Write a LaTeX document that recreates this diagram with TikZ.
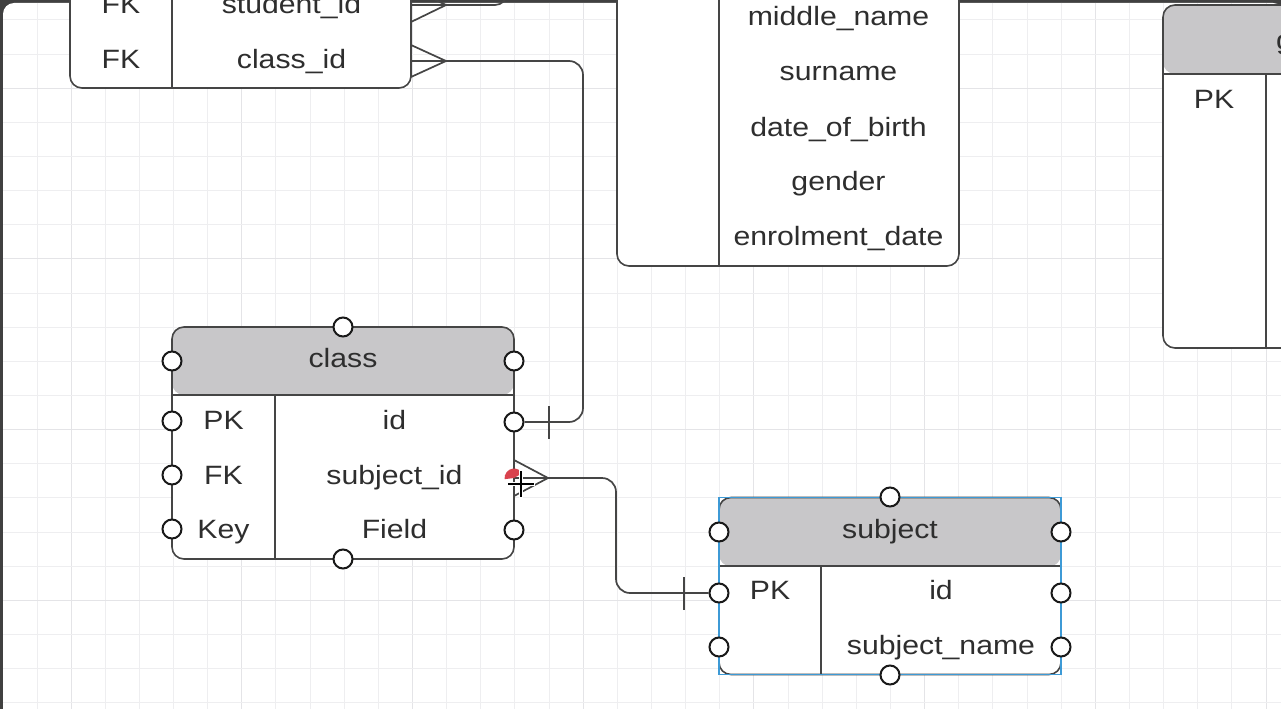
\documentclass[tikz,border=0pt]{standalone}
\usepackage{fontspec}
\setmainfont{Liberation Sans}[FakeStretch=1.14]
\definecolor{framec}{HTML}{404040}
\definecolor{gridminor}{HTML}{EEEEF0}
\definecolor{gridmajor}{HTML}{E4E4E7}
\definecolor{linec}{HTML}{454545}
\definecolor{hdrc}{HTML}{C8C7C9}
\definecolor{textc}{HTML}{2E2E2E}
\definecolor{selblue}{HTML}{3D9AD6}
\definecolor{curred}{HTML}{D9434E}
\begin{document}
\begin{tikzpicture}[x=1pt,y=-1pt,
  tblline/.style={draw=linec, line width=1.6pt},
  tablebox/.style={rectangle, draw=linec, line width=1.6pt, fill=white, rounded corners=12pt, inner sep=0, outer sep=0},
  hdr/.style={path picture={\fill[hdrc] (path picture bounding box.north west) rectangle ([yshift=-#1]path picture bounding box.north east);}},
  txt/.style={text=textc, font=\fontsize{26.5}{30}\selectfont, inner sep=0, anchor=base},
  port/.style={circle, draw=black!90, fill=white, line width=2pt, minimum size=19pt, inner sep=0},
  link/.style={draw=linec, line width=1.7pt, rounded corners=13pt},
  bar/.style={draw=linec, line width=1.7pt}
]
\useasboundingbox (0,0) rectangle (1281,709);
\clip (0,0) rectangle (1281,709);
% frame
\fill[framec] (0,0) rectangle (1281,709);
\fill[white, rounded corners=11pt] (3,3) rectangle (1284,740);
% grid
\foreach \i in {0,...,37} {
  \pgfmathsetmacro\gx{37+34.14*\i}
  \pgfmathtruncatemacro\m{mod(\i+4,5)}
  \ifnum\m=0 \draw[gridmajor, line width=1pt] (\gx,3) -- (\gx,709);
  \else \draw[gridminor, line width=1pt] (\gx,3) -- (\gx,709); \fi
}
\foreach \j in {0,...,20} {
  \pgfmathsetmacro\gy{20+34.14*\j}
  \pgfmathtruncatemacro\m{mod(\j+3,5)}
  \ifnum\m=0 \draw[gridmajor, line width=1pt] (3,\gy) -- (1281,\gy);
  \else \draw[gridminor, line width=1pt] (3,\gy) -- (1281,\gy); \fi
}

% ---------- top-left table (partly off canvas)
\node[tablebox, minimum width=341pt, minimum height=288pt] (enrT) at (240.5,-56) {};
\draw[tblline] (172,-200) -- (172,88);
\node[txt] (enrK1) at (121,13.5) {FK};
\node[txt] (enrF1) at (291.5,13.5) {student\_id};
\node[txt] (enrK2) at (121,68) {FK};
\node[txt] (enrF2) at (291.5,68) {class\_id};
\coordinate (enrSid) at (411,5);
\coordinate (enrCid) at (411,61);
\coordinate (offTop) at (507,-40);

% ---------- student table (partly off canvas)
\node[tablebox, minimum width=342pt, minimum height=416pt] (stuT) at (788,58) {};
\draw[tblline] (719,-150) -- (719,266);
\node[txt] (stu1) at (838.5,26) {middle\_name};
\node[txt] (stu2) at (838.5,81) {surname};
\node[txt] (stu3) at (838.5,136) {date\_of\_birth};
\node[txt] (stu4) at (838.5,190.5) {gender};
\node[txt] (stu5) at (838.5,245) {enrolment\_date};

% ---------- right table (partly off canvas)
\node[tablebox, hdr=69pt, minimum width=337pt, minimum height=343pt] (grT) at (1331.5,176.5) {};
\draw[tblline] (1163,74) -- (1500,74);
\draw[tblline] (1266,74) -- (1266,348);
\node[txt, anchor=base west] (grH) at (1276,50) {g};
\node[txt] (grK) at (1214,108) {PK};

% ---------- class table
\node[tablebox, hdr=68pt, minimum width=342pt, minimum height=232pt] (clsT) at (343,443) {};
\draw[tblline] (172,395) -- (514,395);
\draw[tblline] (275,395) -- (275,559);
\node[txt] (clsH) at (343,367) {class};
\node[txt] (clsK1) at (223.5,429) {PK};
\node[txt] (clsF1) at (394.5,429) {id};
\node[txt] (clsK2) at (223.5,484) {FK};
\node[txt] (clsF2) at (394.5,484) {subject\_id};
\node[txt] (clsK3) at (223.5,538) {Key};
\node[txt] (clsF3) at (394.5,538) {Field};

% ---------- subject table
\node[tablebox, hdr=69pt, minimum width=342pt, minimum height=177pt] (subT) at (890,586) {};
\draw[tblline] (719,566) -- (1061,566);
\draw[tblline] (821,566) -- (821,675);
\node[txt] (subH) at (890,538) {subject};
\node[txt] (subK1) at (770,599) {PK};
\node[txt] (subF1) at (941,599) {id};
\node[txt] (subF2) at (941,654) {subject\_name};
\draw[selblue, line width=1.8pt] (719,497.5) rectangle (1061,674.5);

% ---------- connectors
% student_id (goes off canvas)
\draw[link, rounded corners=12pt] (enrSid) -- (507,5) -- (offTop);
\draw[bar] (411,-12) -- (446,5) -- (411,22);
% class_id -> class.id
\coordinate (clsIdR) at (514,422);
\draw[bar] (411,45) -- (446,61) -- (411,77);
\node[port] (cP-idr) at (clsIdR) {};
\draw[link, rounded corners=14pt] (enrCid) -- (583,61) -- (583,422) -- (cP-idr);
\draw[bar] (549,406) -- (549,439);
% class.subject_id -> subject.id
\coordinate (clsSidR) at (514,478);
\node[port] (sP-pkl) at (719,593) {};
\draw[link, rounded corners=14pt] (clsSidR) -- (616,478) -- (616,593) -- (sP-pkl);
\draw[bar] (514,460) -- (548,478) -- (514,496);
\draw[bar] (684,577) -- (684,610);

% ---------- ports class
\node[port] (cP-top) at (343,327) {};
\node[port] (cP-bot) at (343,559) {};
\node[port] (cP-hl) at (172,361) {};
\node[port] (cP-hr) at (514,361) {};
\node[port] (cP-l1) at (172,421) {};
\node[port] (cP-l2) at (172,475) {};
\node[port] (cP-l3) at (172,529) {};
\node[port] (cP-r3) at (514,530) {};
% ---------- ports subject
\node[port] (sP-top) at (890,497) {};
\node[port] (sP-bot) at (890,675) {};
\node[port] (sP-hl) at (719,532) {};
\node[port] (sP-hr) at (1061,532) {};
\node[port] (sP-l2) at (719,647) {};
\node[port] (sP-r1) at (1061,593) {};
\node[port] (sP-r2) at (1061,647) {};

% ---------- mouse cursor over the hovered port
\fill[curred] (514,478) -- (504.6,479.2) arc[start angle=173, end angle=330, radius=9.5] -- cycle;
\draw[white, line width=4.5pt] (507,484) -- (535,484) (521,470) -- (521,498);
\draw[black, line width=1.8pt] (508,484) -- (534,484) (521,471) -- (521,497);
\end{tikzpicture}
\end{document}
